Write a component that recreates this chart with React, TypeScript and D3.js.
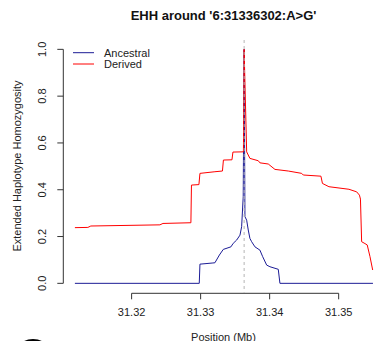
import React from "react";
import { scaleLinear, line } from "d3";

// EHH values (position in Mb)
const derivedPos = [
  31.31178, 31.31366, 31.31409, 31.3241, 31.32454, 31.32859, 31.32867, 31.32975,
  31.3299, 31.33207, 31.33316, 31.3333, 31.33454, 31.33468, 31.3362, 31.3363,
  31.33667, 31.33714, 31.33835, 31.33859, 31.3398, 31.34077, 31.3427, 31.34464,
  31.34487, 31.34743, 31.34765, 31.34859, 31.35149, 31.35261, 31.35301, 31.35316,
  31.35333, 31.35381, 31.35414, 31.35454, 31.35493,
];
const derivedEhh = [
  0.238, 0.239, 0.245, 0.25, 0.256, 0.259, 0.42, 0.422,
  0.47, 0.477, 0.48, 0.527, 0.528, 0.561, 0.562, 1.0,
  0.562, 0.534, 0.524, 0.515, 0.51, 0.487, 0.48, 0.47,
  0.463, 0.458, 0.427, 0.413, 0.402, 0.391, 0.377, 0.36,
  0.178, 0.17, 0.164, 0.114, 0.057,
];
const ancestralPos = [
  31.31178, 31.3298, 31.3299, 31.33178, 31.33207, 31.33272, 31.33328, 31.33439,
  31.33472, 31.33522, 31.3357, 31.33594, 31.33617, 31.3363, 31.33642, 31.33667,
  31.3369, 31.33714, 31.33739, 31.33787, 31.33859, 31.33899, 31.33957, 31.34004,
  31.34125, 31.34149, 31.35497,
];
const ancestralEhh = [
  0, 0, 0.082, 0.087, 0.088, 0.121, 0.145, 0.156,
  0.171, 0.185, 0.206, 0.242, 0.37, 1.0, 0.285, 0.27,
  0.228, 0.192, 0.178, 0.156, 0.142, 0.114, 0.078, 0.071,
  0.06, 0, 0,
];
const corePos = 31.336302;
const xTicks = [31.32, 31.33, 31.34, 31.35];
const yTicks = [0, 0.2, 0.4, 0.6, 0.8, 1.0];
const legendItems = [
  { label: "Ancestral", color: "#1c1c96" },
  { label: "Derived", color: "#ff0000" },
];

const W = 375;
const H = 341;
const font = "'Liberation Sans', Arial, Helvetica, sans-serif";

export default function App() {
  const x = scaleLinear().domain([31.3101, 31.35657]).range([63.3, 384]);
  const y = scaleLinear().domain([-0.04, 1.04]).range([292.7, 40]);

  const path = (pos: number[], ehh: number[]) =>
    line<[number, number]>()
      .x((d) => x(d[0]))
      .y((d) => y(d[1]))(pos.map((p, i) => [p, ehh[i]] as [number, number])) || "";

  const axisY = 293.3;
  const axisX = 63.3;

  return (
    <svg
      width={W}
      height={H}
      style={{ position: "absolute", left: 0, top: 0, background: "#fff" }}
      fontFamily={font}
    >
      <text x={223.5} y={19.5} textAnchor="middle" fontSize={13} fontWeight="bold" fill="#111">
        EHH around '6:31336302:A&gt;G'
      </text>

      {/* y axis */}
      <line x1={axisX} x2={axisX} y1={y(0)} y2={y(1)} stroke="#333" />
      {yTicks.map((t) => (
        <g key={t}>
          <line x1={axisX - 6} x2={axisX} y1={y(t)} y2={y(t)} stroke="#333" />
          <text
            transform={`translate(42,${y(t)}) rotate(-90)`}
            textAnchor="middle"
            dy="0.35em"
            fontSize={11}
            fill="#222"
          >
            {t.toFixed(1)}
          </text>
        </g>
      ))}
      <text
        transform={`translate(17,166) rotate(-90)`}
        textAnchor="middle"
        dy="0.35em"
        fontSize={11}
        fill="#222"
      >
        Extended Haplotype Homozygosity
      </text>

      {/* x axis */}
      <line x1={x(31.32)} x2={x(31.35)} y1={axisY} y2={axisY} stroke="#333" />
      {xTicks.map((t) => (
        <g key={t}>
          <line x1={x(t)} x2={x(t)} y1={axisY} y2={axisY + 6} stroke="#333" />
          <text x={x(t)} y={315.5} textAnchor="middle" fontSize={11} fill="#222">
            {t.toFixed(2)}
          </text>
        </g>
      ))}
      <text x={223.5} y={340.5} textAnchor="middle" fontSize={11} fill="#222">
        Position (Mb)
      </text>

      {/* curves */}
      <path d={path(ancestralPos, ancestralEhh)} fill="none" stroke="#1c1c96" strokeWidth={1} />
      <path d={path(derivedPos, derivedEhh)} fill="none" stroke="#ff0000" strokeWidth={1} />
      <line
        x1={x(corePos)}
        x2={x(corePos)}
        y1={40}
        y2={292.7}
        stroke="#b5b5b5"
        strokeDasharray="3,3"
      />

      {/* legend */}
      {legendItems.map((d, i) => (
        <g key={d.label} transform={`translate(0,${52.7 + i * 11.3})`}>
          <line x1={73} x2={94} y1={0} y2={0} stroke={d.color} strokeWidth={1} />
          <text x={104} y={0} dy="0.35em" fontSize={11} fill="#222">
            {d.label}
          </text>
        </g>
      ))}

      {/* cropped mark at bottom-left */}
      <ellipse cx={33} cy={348} rx={13} ry={8} fill="none" stroke="#000" strokeWidth={2} />
    </svg>
  );
}
